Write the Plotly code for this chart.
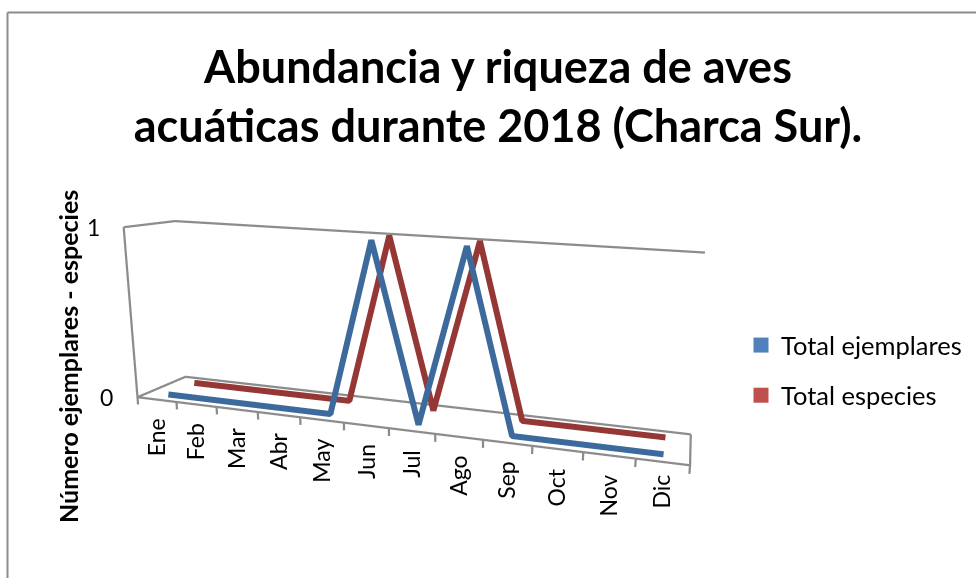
import plotly.graph_objects as go

months = ["Ene","Feb","Mar","Abr","May","Jun","Jul","Ago","Sep","Oct","Nov","Dic"]
total_ejemplares = [0,0,0,0,0,1,0,1,0,0,0,0]
total_especies = [0,0,0,0,0,1,0,1,0,0,0,0]
axis_values = [0,1]

W, H = 976, 578
ZMIN = -0.045          # length of the tick marks below the floor
PAD_X, PAD_Y, PAD_Z = 0.1, 0.02, 0.02   # keeps the frame off the clipping box
YB, YR = 0.2309, 0.7894  # depth of each series on the series axis

fig = go.Figure()
fx = [0,12,None,0,0,None,12,12,None,0,12,None,0,0,None,0,0,None,0,12]
fy = [0,0,None,0,1,None,0,1,None,1,1,None,0,0,None,0,1,None,1,1]
fz = [0,0,None,0,0,None,0,0,None,0,0,None,0,1,None,1,1,None,1,1]
for i in range(13):
    fx += [None,i,i]; fy += [None,0,0]; fz += [None,0,ZMIN]
fig.add_trace(go.Scatter3d(x=fx,y=fy,z=fz,mode="lines",line=dict(color="#8c8c8c",width=4.5),showlegend=False,hoverinfo="skip"))
xc = [i+0.5 for i in range(12)]
fig.add_trace(go.Scatter3d(x=xc,y=[YR]*12,z=total_especies,mode="lines",line=dict(color="#953735",width=12),showlegend=False,name="Total especies"))
fig.add_trace(go.Scatter3d(x=xc,y=[YB]*12,z=total_ejemplares,mode="lines",line=dict(color="#3c6a9c",width=12),showlegend=False,name="Total ejemplares"))
fig.add_trace(go.Scatter(x=[None],y=[None],mode="markers",name="Total ejemplares",legendgroup="a",marker=dict(symbol="square",size=15,color="#4f81bd")))
fig.add_trace(go.Scatter(x=[None],y=[None],mode="markers",name="Total especies",legendgroup="b",marker=dict(symbol="square",size=15,color="#c0504d")))

axis = dict(showgrid=False,zeroline=False,showline=False,showticklabels=False,ticks="",showbackground=False,showspikes=False,title="")
F = "Lato, Carlito, Calibri, sans-serif"
extra_shift = {"Dic": 7}
anns = [dict(x=i+0.5,y=0,z=ZMIN,text=m,textangle=-90,showarrow=False,yanchor="top",yshift=-9+extra_shift.get(m,0),xshift=-1,font=dict(family=F,size=23,color="#000")) for i,m in enumerate(months)]
anns += [dict(x=0,y=0,z=v,text=str(v),showarrow=False,xanchor="right",xshift=-22,font=dict(family=F,size=23,color="#000")) for v in axis_values]
px, hw = 535.0, 441.0

fig.update_layout(
    width=W,height=H,margin=dict(l=0,r=0,t=0,b=0),paper_bgcolor="white",plot_bgcolor="rgba(0,0,0,0)",
    font=dict(family=F,color="#000"),
    title=dict(text="<b>Abundancia y riqueza de aves<br>acuáticas durante 2018 (Charca Sur).</b>",x=498/W,xanchor="center",xref="paper",y=1-83/H,yanchor="middle",font=dict(size=45,family=F,color="#000")),
    scene=dict(domain=dict(x=[(px-hw)/W,(px+hw)/W],y=[0,1]),aspectmode="manual",
      aspectratio=dict(x=3.1753*(12+2*PAD_X)/12,y=0.4008*(1+2*PAD_Y),z=1-ZMIN+2*PAD_Z),
      xaxis={**axis,"range":[-PAD_X,12+PAD_X]},yaxis={**axis,"range":[-PAD_Y,1+PAD_Y]},zaxis={**axis,"range":[ZMIN-PAD_Z,1+PAD_Z]},
      camera=dict(eye=dict(x=1.5136,y=-3.4928,z=0.9972),center=dict(x=0.4407,y=1.3326,z=0.0398),up=dict(x=-0.0202,y=-0.0508,z=1),projection=dict(type="perspective")),
      annotations=anns),
    xaxis=dict(visible=False,domain=[0,0.1]),yaxis=dict(visible=False,domain=[0,0.1]),
    legend=dict(x=741/W,y=1-370.5/H,xanchor="left",yanchor="middle",font=dict(size=25.5,family=F),itemsizing="trace",tracegroupgap=14,traceorder="grouped",bgcolor="rgba(0,0,0,0)"),
    annotations=[dict(x=68/W,xref="paper",xanchor="center",yanchor="middle",y=1-357/H,yref="paper",text="<b>Número ejemplares - especies</b>",textangle=-90,showarrow=False,font=dict(size=25,family=F))],
    shapes=[dict(type="line",xref="paper",yref="paper",x0=7.5/W,x1=1,y0=1-12.5/H,y1=1-12.5/H,line=dict(color="#8c8c8c",width=2)),
            dict(type="line",xref="paper",yref="paper",x0=7.5/W,x1=7.5/W,y0=0,y1=1-12.5/H,line=dict(color="#8c8c8c",width=2))],
)
fig.write_html("out.html",config=dict(displayModeBar=False),post_script="document.body.style.margin='0';")
